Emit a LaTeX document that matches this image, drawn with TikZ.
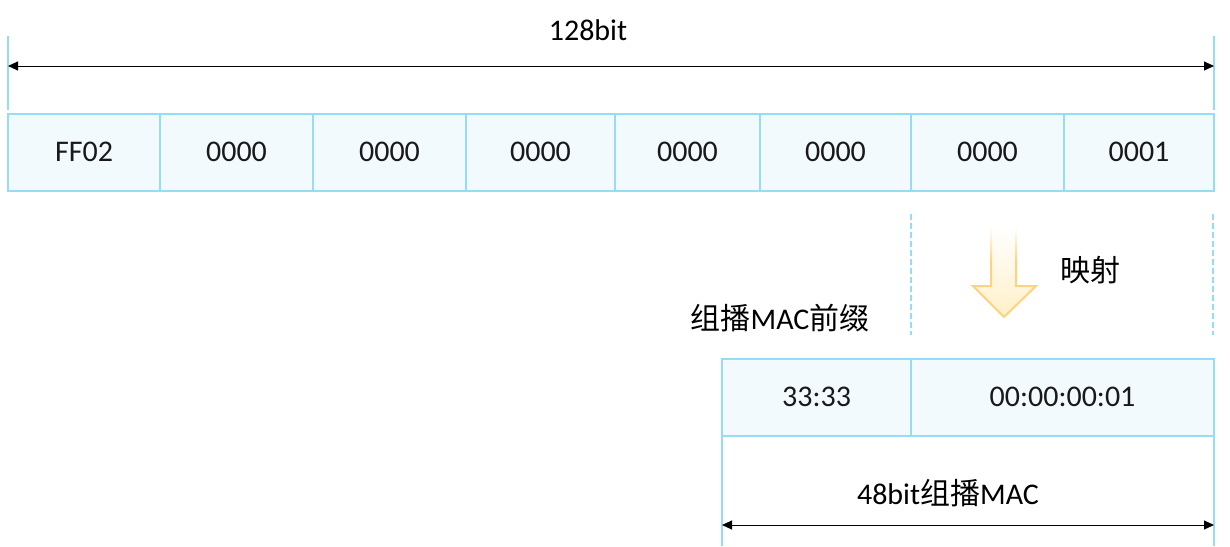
\documentclass[tikz,border=0pt]{standalone}
\usepackage{fontspec}
\setmainfont{Carlito}
\newfontfamily\cjk{Noto Sans CJK SC}
\usetikzlibrary{arrows.meta,positioning}
\definecolor{cellline}{RGB}{150,220,245}
\definecolor{cellfill}{RGB}{243,250,253}
\definecolor{arrline}{RGB}{255,210,125}
\definecolor{arrfill}{RGB}{255,240,200}

\begin{document}
\begin{tikzpicture}[x=1pt,y=-1pt,font=\fontsize{30}{36}\selectfont,>={Triangle[length=10pt,width=9pt]},
cell/.style={draw=cellline,fill=cellfill,line width=2pt,outer sep=0pt,inner sep=0pt,minimum height=77pt,anchor=west,text=black!90},
tick/.style={draw=cellline,line width=2pt},
dashline/.style={draw=cellline,line width=2pt,dash pattern=on 6pt off 3pt},
span/.style={<->,line width=1pt}]
\useasboundingbox (0,0) rectangle (1230,546);
% IPv6 address
\node[cell,minimum width=152pt] (g1) at (8,152) {FF02};
\node[cell,minimum width=153pt,right=0pt of g1] (g2) {0000};
\node[cell,minimum width=153pt,right=0pt of g2] (g3) {0000};
\node[cell,minimum width=149pt,right=0pt of g3] (g4) {0000};
\node[cell,minimum width=145pt,right=0pt of g4] (g5) {0000};
\node[cell,minimum width=151pt,right=0pt of g5] (g6) {0000};
\node[cell,minimum width=153pt,right=0pt of g6] (g7) {0000};
\node[cell,minimum width=150pt,right=0pt of g7] (g8) {0001};
\coordinate (ltop) at (8,36);
\coordinate (rtop) at (1214,36);
\draw[tick] (ltop)--([yshift=4pt]g1.north west);
\draw[tick] (rtop)--([yshift=4pt]g8.north east);
\draw[span] ([yshift=-30pt]ltop)--([yshift=-30pt]rtop);
\node (w128) at (588,30) {128bit};
% mapping
\coordinate (dl1) at (911,214);
\coordinate (dl2) at (911,335);
\coordinate (dr1) at (1213,214);
\coordinate (dr2) at (1213,335);
\draw[dashline] (dl1)--(dl2);
\draw[dashline] (dr1)--(dr2);
\shade[top color=white,bottom color=arrfill] (991,227)--(1016,227)--(1016,286)--(1036,286)--(1004,317)--(973,286)--(991,286)--cycle;
\shade[top color=white,bottom color=arrline] (990,227) rectangle (992,262);
\shade[top color=white,bottom color=arrline] (1015,227) rectangle (1017,262);
\draw[arrline,line width=2pt,line join=miter] (991,262)--(991,286)--(973,286)--(1004,317)--(1036,286)--(1016,286)--(1016,262);
\node (map) at (1090,270) {\cjk 映射};
\node (pre) at (780,318) {{\cjk 组播}MAC{\cjk 前缀}};
% MAC address
\node[cell,minimum width=189pt] (m1) at (722,397) {33:33};
\node[cell,minimum width=303pt,right=0pt of m1] (m2) {00:00:00:01};
\coordinate (lbot) at (722,546);
\coordinate (rbot) at (1214,546);
\draw[tick] (m1.south west)--(lbot);
\draw[tick] (m2.south east)--(rbot);
\draw[span] ([yshift=21pt]lbot)--([yshift=21pt]rbot);
\node (w48) at (948,493) {48bit{\cjk 组播}MAC};
\end{tikzpicture}
\end{document}
